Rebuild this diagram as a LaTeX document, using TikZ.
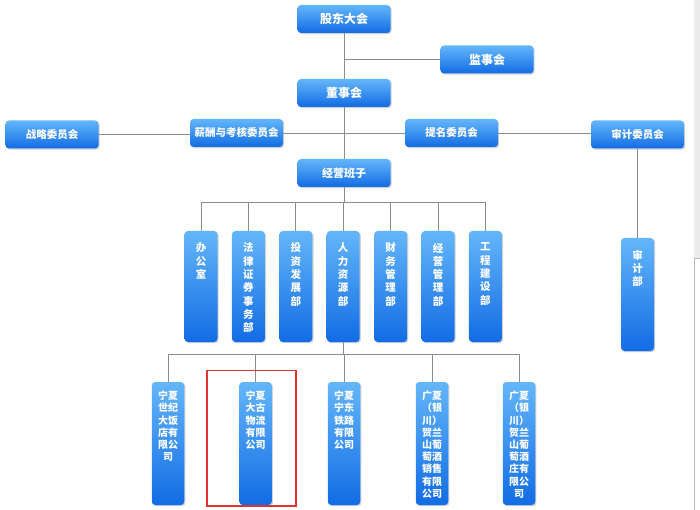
\documentclass[tikz,border=0pt]{standalone}
\usepackage{fontspec}
\setmainfont{Noto Sans CJK SC}
\usetikzlibrary{shadows}
\definecolor{btop}{RGB}{100,182,250}
\definecolor{bbot}{RGB}{18,108,228}
\definecolor{lin}{RGB}{140,140,140}
\definecolor{redb}{RGB}{222,52,52}
\definecolor{sbar}{RGB}{236,236,236}
\begin{document}
\begin{tikzpicture}[x=1pt,y=-1pt,
  box/.style={draw=none, rounded corners=3.5pt, top color=btop, bottom color=bbot,
    drop shadow={shadow xshift=1.2pt,shadow yshift=-1.2pt,opacity=0.35},
    inner sep=0pt, text=white},
  hbox/.style={box, minimum width=93pt, minimum height=28pt},
  big/.style={font=\fontsize{12}{14}\selectfont\bfseries},
  mid/.style={font=\fontsize{11}{13}\selectfont\bfseries},
  small/.style={font=\fontsize{10.5}{12}\selectfont\bfseries},
  vbox/.style={box, minimum width=33pt},
  vtxt/.style={anchor=north, text=white, align=center, inner sep=0pt,
    font=\fontsize{10.5}{13.3}\selectfont\bfseries},
  stxt/.style={anchor=north, text=white, align=center, inner sep=0pt,
    font=\fontsize{10}{12.2}\selectfont\bfseries},
  conn/.style={draw=lin, line width=0.9pt}]
\useasboundingbox (0,0) rectangle (700,510);
\fill[white] (0,0) rectangle (700,510);
% scrollbar
\fill[sbar] (694,0) rectangle (700,258);
\draw[lin!60, line width=0.6pt] (694.3,258) -- (694.3,510);
\draw[lin!60, line width=0.6pt] (694.3,258) -- (700,258);

% top level
\node[hbox, big] (gd) at (344,19) {股东大会};
\node[hbox, big] (js) at (487,59.5) {监事会};
\node[hbox, big] (ds) at (344,93) {董事会};
\node[hbox, small] (zl) at (52,134.5) {战略委员会};
\node[hbox, small] (xc) at (236.5,133) {薪酬与考核委员会};
\node[hbox, small] (tm) at (451.5,133) {提名委员会};
\node[hbox, small] (sj) at (637.5,134.5) {审计委员会};
\node[hbox, mid] (jy) at (344,173) {经营班子};

% departments
\foreach \n/\x/\t in {d1/201/办\\公\\室, d2/248.4/法\\律\\证\\券\\事\\务\\部, d3/295.8/投\\资\\发\\展\\部,
  d4/343.2/人\\力\\资\\源\\部, d5/390.6/财\\务\\管\\理\\部, d6/438/经\\营\\管\\理\\部, d7/485.4/工\\程\\建\\设\\部}{
  \node[vbox, minimum height=111pt] (\n) at (\x,286.5) {};
  \node[vtxt] (\n t) at ([yshift=-12pt]\n.north) {\t};
}
\node[vbox, minimum height=113pt] (sjb) at (637.5,294.5) {};
\node[vtxt] (sjbt) at ([yshift=-12pt]sjb.north) {审\\计\\部};

% subsidiaries
\foreach \n/\x/\t in {s1/168/宁夏\\世纪\\大饭\\店有\\限公\\司, s2/255.5/宁夏\\大古\\物流\\有限\\公司,
  s3/344/宁夏\\宁东\\铁路\\有限\\公司, s4/432/广夏\\（银\\川）\\贺兰\\山葡\\萄酒\\销售\\有限\\公司,
  s5/519/广夏\\（银\\川）\\贺兰\\山葡\\萄酒\\庄有\\限公\\司}{
  \node[vbox, minimum width=32.5pt, minimum height=123pt] (\n) at (\x,443.5) {};
  \node[stxt] (\n t) at ([yshift=-9pt]\n.north) {\t};
}

% connectors
\draw[conn] (gd.south) -- (ds.north);
\draw[conn] (gd.south |- js.west) -- (js.west);
\draw[conn] (ds.south) -- (jy.north);
\draw[conn] (zl.east) -- (zl.east -| xc.west);
\draw[conn] (xc.east) -- (xc.east -| tm.west);
\draw[conn] (tm.east) -- (tm.east -| sj.west);
\draw[conn] (sj.south) -- (sjb.north);
\coordinate (h1) at (344,202);
\draw[conn] (jy.south) -- (h1);
\draw[conn] (d1.north |- h1) -- (d7.north |- h1);
\foreach \n in {d1,d2,d3,d4,d5,d6,d7}{\draw[conn] (\n.north |- h1) -- (\n.north);}
\coordinate (h2) at (343.2,354);
\draw[conn] (d4.south) -- (h2);
\draw[conn] (s1.north |- h2) -- (s5.north |- h2);
\foreach \n in {s1,s2,s3,s4,s5}{\draw[conn] (\n.north |- h2) -- (\n.north);}

% highlight
\draw[redb, line width=1.4pt] (207,370.5) rectangle (296,506);
\end{tikzpicture}
\end{document}
